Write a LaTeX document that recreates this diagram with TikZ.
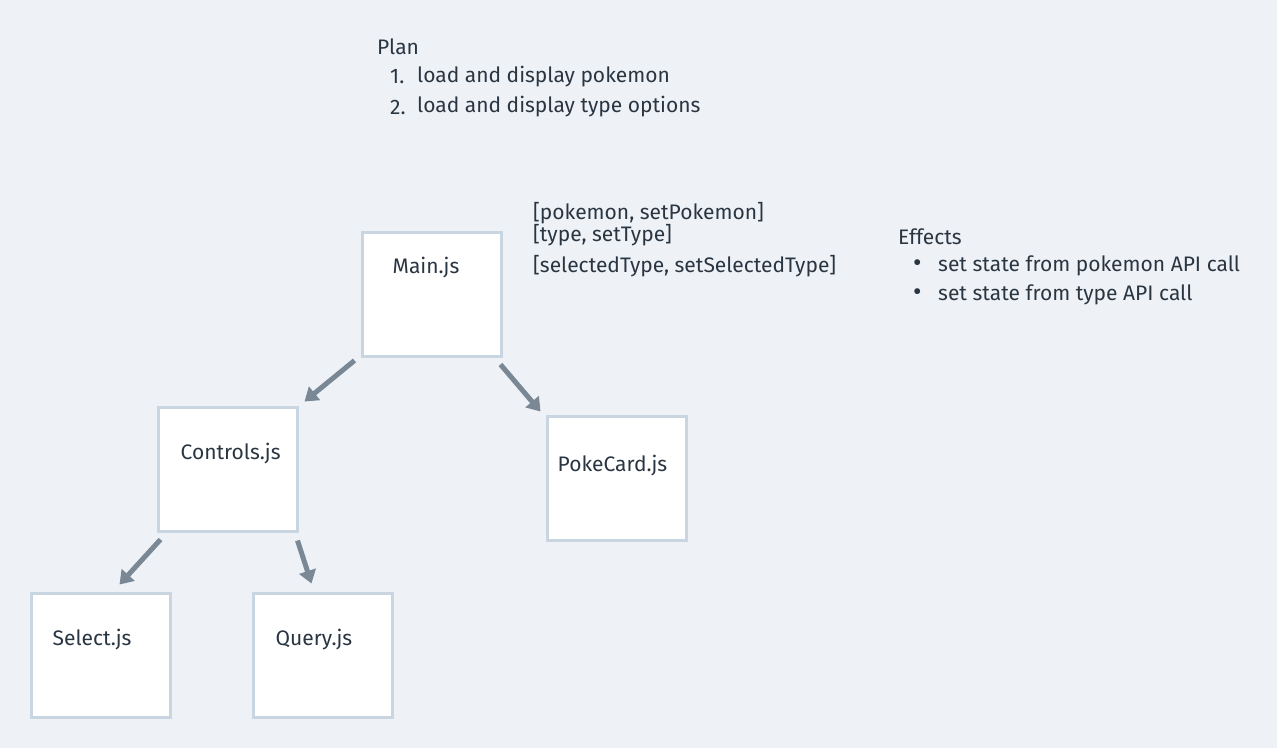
\documentclass[tikz,border=0pt]{standalone}
\usepackage{fontspec}
\setmainfont{Fira Sans}
\usetikzlibrary{arrows.meta}
\definecolor{bg}{HTML}{EEF2F6}
\definecolor{ink}{HTML}{2A3542}
\definecolor{edge}{HTML}{C9D5E1}
\definecolor{arr}{HTML}{7A8896}
\begin{document}
\begin{tikzpicture}[x=1pt, y=-1pt,
    box/.style={draw=edge, line width=3pt, fill=white, minimum width=139pt, minimum height=124pt, inner sep=0pt},
    txt/.style={text=ink, font=\fontsize{21}{24}\selectfont, anchor=west, inner sep=0pt},
    link/.style={draw=arr, line width=5pt, -{Triangle[length=13pt, width=17pt]}}]
    \fill[bg] (0,0) rectangle (1277,748);
    \useasboundingbox (0,0) rectangle (1277,748);
    \node[txt] (Plan) at (377,47) {Plan};
    \node[txt] (N1) at (390,77) {1.};
    \node[txt] (P1) at (417,77) {load and display pokemon};
    \node[txt] (N2) at (390,107) {2.};
    \node[txt] (P2) at (417,107) {load and display type options};
    \node[box] (Main) at (431.5,294) {};
    \node[txt] at ([shift={(32,37)}]Main.north west) {Main.js};
    \node[box] (Ctrl) at (227.5,469) {};
    \node[txt] at ([shift={(24,48)}]Ctrl.north west) {Controls.js};
    \node[box] (Poke) at (616.5,478) {};
    \node[txt] at ([shift={(12,51)}]Poke.north west) {PokeCard.js};
    \node[box] (Sel) at (100.5,655) {};
    \node[txt] at ([shift={(23,48)}]Sel.north west) {Select.js};
    \node[box] (Qry) at (322.5,655) {};
    \node[txt] at ([shift={(24,48)}]Qry.north west) {Query.js};
    \node[txt] (S1) at (533,213) {[pokemon, setPokemon]};
    \node[txt] (S2) at (533,235) {[type, setType]};
    \node[txt] (S3) at (533,266) {[selectedType, setSelectedType]};
    \node[txt] (Eff) at (898,237) {Effects};
    \node[txt, font=\fontsize{26}{26}\selectfont] (B1) at (913,266) {•};
    \node[txt] (E1) at (938,266) {set state from pokemon API call};
    \node[txt, font=\fontsize{26}{26}\selectfont] (B2) at (913,295) {•};
    \node[txt] (E2) at (938,295) {set state from type API call};
    \draw[link] ([shift={(-6,3)}]Main.south west) -- ([shift={(6,-4)}]Ctrl.north east);
    \draw[link] ([shift={(-2,7)}]Main.south east) -- ([shift={(-5,-3)}]Poke.north west);
    \draw[link] ([shift={(4,7)}]Ctrl.south west) -- ([shift={(-52,-7)}]Sel.north east);
    \draw[link] ([shift={(-1,8)}]Ctrl.south east) -- ([shift={(60,-8)}]Qry.north west);
\end{tikzpicture}
\end{document}
